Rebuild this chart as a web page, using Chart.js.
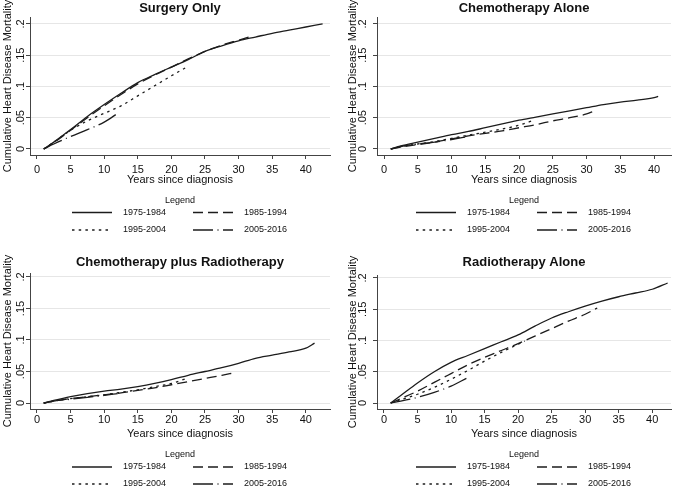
<!DOCTYPE html>
<html>
<head>
<meta charset="utf-8">
<script src="https://cdn.jsdelivr.net/npm/chart.js@4.4.1/dist/chart.umd.min.js"></script>
<style>
  html, body { margin: 0; padding: 0; background: #fff; }
  #wrap { position: relative; width: 676px; height: 491px; overflow: hidden; }
  .panel { position: absolute; }
</style>
</head>
<body>
<div id="wrap">
  <div class="panel" style="left:0;top:0"><canvas id="c1" width="338" height="245"></canvas></div>
  <div class="panel" style="left:338px;top:0"><canvas id="c2" width="338" height="245"></canvas></div>
  <div class="panel" style="left:0;top:245px"><canvas id="c3" width="338" height="246"></canvas></div>
  <div class="panel" style="left:338px;top:245px"><canvas id="c4" width="338" height="246"></canvas></div>
</div>
<script>
/* ─── Data ([years, cumulative mortality]) ─── */
const PERIODS = ['1975-1984', '1985-1994', '1995-2004', '2005-2016'];
const TITLES  = ['Surgery Only', 'Chemotherapy Alone', 'Chemotherapy plus Radiotherapy', 'Radiotherapy Alone'];
const Y_TICKS  = [0, 0.05, 0.1, 0.15, 0.2];
const Y_LABELS = ['0', '.05', '.1', '.15', '.2'];
const X_TICKS  = [0, 5, 10, 15, 20, 25, 30, 35, 40];

const surgery7584 = [[1,0],[2.5,0.011],[5,0.031],[7.5,0.052],[10,0.071],[12.5,0.089],[15,0.106],[17.5,0.119],[20,0.131],[22.5,0.143],[25,0.156],[27.5,0.165],[30,0.173],[32.5,0.179],[35,0.185],[37.5,0.190],[40,0.195],[42.5,0.200]];
const surgery8594 = [[1,0],[2.5,0.010],[5,0.030],[7.5,0.050],[10,0.069],[12.5,0.087],[15,0.104],[17.5,0.118],[20,0.131],[22.5,0.144],[25,0.156],[27.5,0.166],[30,0.174],[32.2,0.181]];
const surgery9504 = [[1,0],[2.5,0.011],[5,0.030],[7.5,0.045],[10,0.057],[12.5,0.069],[15,0.085],[17.5,0.101],[20,0.117],[22.3,0.131]];
const surgery0516 = [[1,0],[2.5,0.008],[5,0.020],[7.5,0.031],[10,0.043],[12,0.057]];

const chemo7584 = [[1,0],[2.5,0.005],[5,0.011],[7.5,0.017],[10,0.023],[12.5,0.028],[15,0.034],[17.5,0.040],[20,0.046],[22.5,0.051],[25,0.056],[27.5,0.061],[30,0.066],[32.5,0.071],[35,0.075],[37.5,0.078],[40,0.082],[40.6,0.084]];
const chemo8594 = [[1,0],[2.5,0.003],[5,0.007],[7.5,0.011],[10,0.016],[12.5,0.021],[15,0.025],[17.5,0.029],[20,0.034],[22.5,0.039],[25,0.045],[27.5,0.050],[30,0.056],[31.2,0.061]];
const chemo9504 = [[1,0],[2.5,0.004],[5,0.008],[7.5,0.012],[10,0.017],[12.5,0.022],[15,0.027],[17.5,0.032],[20,0.038],[22.2,0.046]];
const chemo0516 = [[1,0],[2.5,0.004],[5,0.008],[7.5,0.011],[10,0.015],[12,0.019]];

const chemoRad7584 = [[1,0],[2.5,0.004],[5,0.010],[7.5,0.015],[10,0.019],[12.5,0.022],[15,0.026],[17.5,0.031],[20,0.037],[22.5,0.044],[25,0.050],[27.5,0.056],[30,0.063],[32.5,0.071],[35,0.076],[37.5,0.081],[40,0.087],[41.3,0.095]];
const chemoRad8594 = [[1,0],[2.5,0.003],[5,0.007],[7.5,0.010],[10,0.013],[12.5,0.016],[15,0.020],[17.5,0.024],[20,0.029],[22.5,0.034],[25,0.039],[27.5,0.044],[29.3,0.048]];
const chemoRad9504 = [[1,0],[2.5,0.003],[5,0.007],[7.5,0.010],[10,0.013],[12.5,0.017],[15,0.021],[17.5,0.026],[20,0.031],[22.3,0.039]];
const chemoRad0516 = [[1,0],[2.5,0.003],[5,0.006],[7.5,0.009],[10,0.012],[12,0.015]];

const radio7584 = [[1,0],[2.5,0.012],[5,0.032],[7.5,0.050],[10,0.065],[12.5,0.076],[15,0.087],[17.5,0.098],[20,0.109],[22.5,0.123],[25,0.136],[27.5,0.146],[30,0.155],[32.5,0.163],[35,0.170],[37.5,0.176],[40,0.182],[42.3,0.192]];
const radio8594 = [[1,0],[2.5,0.007],[5,0.019],[7.5,0.033],[10,0.047],[12.5,0.061],[15,0.073],[17.5,0.084],[20,0.095],[22.5,0.107],[25,0.119],[27.5,0.131],[30,0.142],[31.8,0.152]];
const radio9504 = [[1,0],[2.5,0.005],[5,0.014],[7.5,0.025],[10,0.038],[12.5,0.052],[15,0.067],[17.5,0.081],[20,0.094],[21,0.099]];
const radio0516 = [[1,0],[2.5,0.003],[5,0.009],[7.5,0.017],[10,0.027],[12.4,0.040]];

/* ─── Defaults ─── */
Chart.defaults.font.family = '"Liberation Sans", Arial, Helvetica, sans-serif';
Chart.defaults.font.size = 11;
Chart.defaults.color = '#111';

const INK  = '#1c1c1c';
const AXIS = '#444';
const GRID = '#e6e6e6';
const FONT = '"Liberation Sans", Arial, sans-serif';
// solid, dashed, dotted, long dash-dot
const DASHES = [[], [10, 5], [2.5, 4.2], [20, 4.5, 1, 4.5]];

/* ─── Plugins: Stata-style title, vertical y labels, legend block ─── */
const panelTitle = {
  id: 'panelTitle',
  afterDraw(chart, args, opts) {
    const { ctx, chartArea } = chart;
    ctx.save();
    ctx.font = 'bold 13px ' + FONT;
    ctx.fillStyle = '#111';
    ctx.textAlign = 'center';
    ctx.textBaseline = 'middle';
    ctx.fillText(opts.text, (chartArea.left + chartArea.right) / 2, opts.y);
    ctx.restore();
  },
};

// y tick labels run bottom-to-top, centred on each tick
const verticalYLabels = {
  id: 'verticalYLabels',
  afterDraw(chart, args, opts) {
    const { ctx, chartArea } = chart;
    const yScale = chart.scales.y;
    ctx.save();
    ctx.font = '11px ' + FONT;
    ctx.fillStyle = '#111';
    ctx.textAlign = 'center';
    ctx.textBaseline = 'middle';
    Y_TICKS.forEach((v, i) => {
      ctx.save();
      ctx.translate(chartArea.left - opts.dx, yScale.getPixelForValue(v));
      ctx.rotate(-Math.PI / 2);
      ctx.fillText(Y_LABELS[i], 0, 0);
      ctx.restore();
    });
    ctx.restore();
  },
};

const panelLegend = {
  id: 'panelLegend',
  afterDraw(chart, args, opts) {
    const { ctx, chartArea } = chart;
    const cx = (chartArea.left + chartArea.right) / 2;
    const b = chartArea.bottom;
    ctx.save();
    ctx.font = '9px ' + FONT;
    ctx.fillStyle = '#111';
    ctx.textBaseline = 'middle';
    ctx.textAlign = 'center';
    ctx.fillText('Legend', cx, b + opts.titleDy);
    chart.data.datasets.forEach((ds, i) => {
      const col = i % 2, row = Math.floor(i / 2);
      const y = b + opts.rowDy[row];
      const x0 = cx + (col ? 13 : -108);
      ctx.strokeStyle = ds.borderColor;
      ctx.lineWidth = ds.borderWidth;
      ctx.setLineDash(ds.borderDash);
      ctx.beginPath();
      ctx.moveTo(x0, y);
      ctx.lineTo(x0 + 40, y);
      ctx.stroke();
      ctx.setLineDash([]);
      ctx.textAlign = 'left';
      ctx.fillText(ds.label, x0 + 51, y);
    });
    ctx.restore();
  },
};

/* ─── One panel ─── */
function makePanel(id, title, series, p) {
  new Chart(document.getElementById(id), {
    type: 'line',
    data: {
      datasets: series.map((s, i) => ({
        label: PERIODS[i],
        data: s.map(([x, y]) => ({ x, y })),
        borderColor: INK,
        borderWidth: 1.3,
        borderDash: DASHES[i],
        pointRadius: 0,
        fill: false,
        cubicInterpolationMode: 'monotone',
      })),
    },
    options: {
      responsive: false,
      animation: false,
      layout: { padding: p.pad },
      plugins: {
        legend: { display: false },
        tooltip: { enabled: false },
        panelTitle: { text: title, y: p.titleY },
        verticalYLabels: { dx: p.yLabelDx },
        panelLegend: { titleDy: p.legendDy[0], rowDy: [p.legendDy[1], p.legendDy[2]] },
      },
      scales: {
        x: {
          type: 'linear',
          min: -1.04,
          max: p.xMax,
          afterBuildTicks: s => { s.ticks = X_TICKS.map(v => ({ value: v })); },
          afterFit: s => { s.height = 32; },
          grid: { drawOnChartArea: false, tickLength: 4, tickColor: AXIS },
          border: { color: AXIS, width: 1 },
          ticks: { autoSkip: false, maxRotation: 0, padding: p.xTickPad, color: '#111', font: { size: 11 } },
          title: { display: true, text: 'Years since diagnosis', color: '#111', font: { size: 11 }, padding: { top: 0, bottom: 0 } },
        },
        y: {
          min: p.yMin,
          max: p.yMax,
          afterBuildTicks: s => { s.ticks = Y_TICKS.map(v => ({ value: v })); },
          afterFit: s => { s.width = p.yWidth; },
          grid: { color: GRID, lineWidth: 1, tickLength: 4, tickColor: AXIS },
          border: { color: AXIS, width: 1 },
          ticks: { display: false },
          title: { display: true, text: 'Cumulative Heart Disease Mortality', color: '#111', font: { size: 11 }, padding: { top: 1, bottom: 0 } },
        },
      },
    },
    plugins: [panelTitle, verticalYLabels, panelLegend],
  });
}

makePanel('c1', TITLES[0], [surgery7584, surgery8594, surgery9504, surgery0516], {
  pad: { left: 0, top: 17, right: 8, bottom: 58 }, yWidth: 30, yLabelDx: 9.5,
  xMax: 43.6, yMin: -0.0096, yMax: 0.211, xTickPad: 4, titleY: 8,
  legendDy: [45.5, 57.5, 75],
});
makePanel('c2', TITLES[1], [chemo7584, chemo8594, chemo9504, chemo0516], {
  pad: { left: 7, top: 17, right: 5, bottom: 58 }, yWidth: 32, yLabelDx: 14,
  xMax: 42.5, yMin: -0.0096, yMax: 0.211, xTickPad: 4, titleY: 8,
  legendDy: [45.5, 57.5, 75],
});
makePanel('c3', TITLES[2], [chemoRad7584, chemoRad8594, chemoRad9504, chemoRad0516], {
  pad: { left: 0, top: 28, right: 8, bottom: 50 }, yWidth: 30, yLabelDx: 9.5,
  xMax: 43.6, yMin: -0.0095, yMax: 0.2063, xTickPad: 0.5, titleY: 17,
  legendDy: [46, 58, 75],
});
makePanel('c4', TITLES[3], [radio7584, radio8594, radio9504, radio0516], {
  pad: { left: 7, top: 30, right: 5, bottom: 50 }, yWidth: 32, yLabelDx: 14,
  xMax: 42.8, yMin: -0.0096, yMax: 0.2048, xTickPad: 0.5, titleY: 17,
  legendDy: [46, 58, 75],
});
</script>
</body>
</html>
